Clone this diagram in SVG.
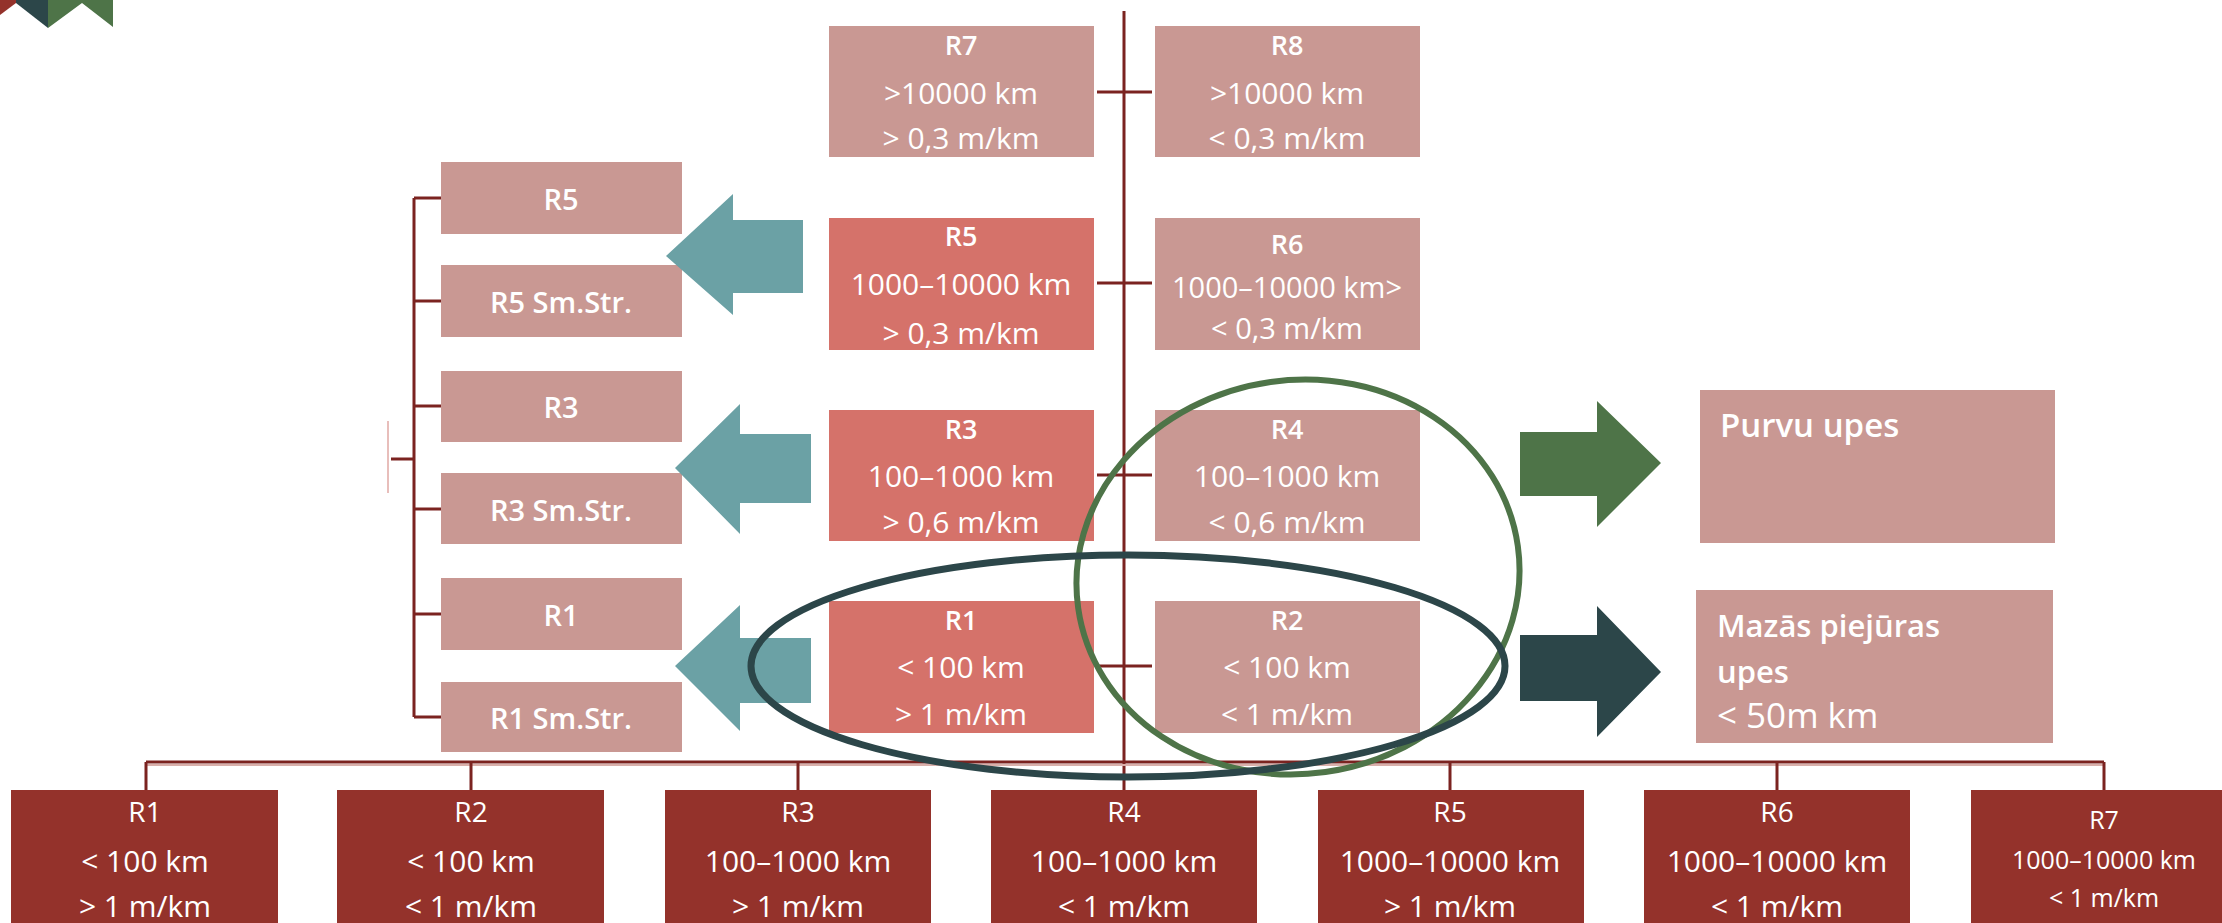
<svg xmlns="http://www.w3.org/2000/svg" width="2222" height="923" viewBox="0 0 2222 923">
<style>
text{font-family:"Open Sans","Noto Sans","Liberation Sans",sans-serif;fill:#fff;text-anchor:middle;dominant-baseline:central}
.b{font-weight:600}
.pink{fill:#C99893}
.sal{fill:#D5726A}
.dark{fill:#94322B}
.ln{stroke:#7B2320;stroke-width:3;fill:none}
.t{font-size:30px}
.h{font-size:27px;font-weight:600}
.l{font-size:29px;font-weight:600}
.bt{font-size:28px}
.s{font-size:25px}
.r{text-anchor:start}
</style>
<rect width="2222" height="923" fill="#fff"/>
<g id="logo">
<polygon points="0,0 16,0 16,3 0,15" fill="#94322B"/>
<polygon points="16,0 48,0 48,28 16,3" fill="#2C4649"/>
<polygon points="48,0 113,0 113,27 82,3 48,28" fill="#4E7448"/>
</g>
<g id="connectors">
<line class="ln" x1="1124" y1="11" x2="1124" y2="790"/>
<line class="ln" x1="1097" y1="92" x2="1152" y2="92"/>
<line class="ln" x1="1097" y1="283" x2="1152" y2="283"/>
<line class="ln" x1="1097" y1="475" x2="1152" y2="475"/>
<line class="ln" x1="1097" y1="666" x2="1152" y2="666"/>
<line class="ln" x1="414" y1="198" x2="414" y2="717"/>
<line class="ln" x1="414" y1="198" x2="441" y2="198"/>
<line class="ln" x1="414" y1="301" x2="441" y2="301"/>
<line class="ln" x1="414" y1="406" x2="441" y2="406"/>
<line class="ln" x1="414" y1="509" x2="441" y2="509"/>
<line class="ln" x1="414" y1="614" x2="441" y2="614"/>
<line class="ln" x1="414" y1="717" x2="441" y2="717"/>
<line class="ln" x1="391" y1="459" x2="414" y2="459"/>
<line x1="388" y1="421" x2="388" y2="493" stroke="#E0A9A4" stroke-width="1.5"/>
<line x1="146" y1="765" x2="2104" y2="765" stroke="#D9B0AB" stroke-width="2"/>
<line class="ln" x1="146" y1="762" x2="2104" y2="762"/>
<line class="ln" x1="146" y1="762" x2="146" y2="790"/>
<line class="ln" x1="471" y1="762" x2="471" y2="790"/>
<line class="ln" x1="798" y1="762" x2="798" y2="790"/>
<line class="ln" x1="1450" y1="762" x2="1450" y2="790"/>
<line class="ln" x1="1777" y1="762" x2="1777" y2="790"/>
<line class="ln" x1="2104" y1="762" x2="2104" y2="790"/>
</g>
<g id="R7"><rect class="pink" x="829" y="26" width="265" height="131"/><text class="h" x="961" y="44">R7</text><text class="t" x="961" y="92">&gt;10000 km</text><text class="t" x="961" y="137">&gt; 0,3 m/km</text></g>
<g id="R8"><rect class="pink" x="1155" y="26" width="265" height="131"/><text class="h" x="1287" y="44">R8</text><text class="t" x="1287" y="92">&gt;10000 km</text><text class="t" x="1287" y="137">&lt; 0,3 m/km</text></g>
<g id="R5"><rect class="sal" x="829" y="218" width="265" height="132"/><text class="h" x="961" y="235">R5</text><text class="t" x="961" y="283">1000–10000 km</text><text class="t" x="961" y="332">&gt; 0,3 m/km</text></g>
<g id="R6"><rect class="pink" x="1155" y="218" width="265" height="132"/><text class="h" x="1287" y="243">R6</text><text x="1287" y="286" style="font-size:29px">1000–10000 km&gt;</text><text x="1287" y="327" style="font-size:29px">&lt; 0,3 m/km</text></g>
<g id="R3"><rect class="sal" x="829" y="410" width="265" height="131"/><text class="h" x="961" y="428">R3</text><text class="t" x="961" y="475">100–1000 km</text><text class="t" x="961" y="521">&gt; 0,6 m/km</text></g>
<g id="R4"><rect class="pink" x="1155" y="410" width="265" height="131"/><text class="h" x="1287" y="428">R4</text><text class="t" x="1287" y="475">100–1000 km</text><text class="t" x="1287" y="521">&lt; 0,6 m/km</text></g>
<g id="R1"><rect class="sal" x="829" y="601" width="265" height="132"/><text class="h" x="961" y="619">R1</text><text class="t" x="961" y="666">&lt; 100 km</text><text class="t" x="961" y="713">&gt; 1 m/km</text></g>
<g id="R2"><rect class="pink" x="1155" y="601" width="265" height="132"/><text class="h" x="1287" y="619">R2</text><text class="t" x="1287" y="666">&lt; 100 km</text><text class="t" x="1287" y="713">&lt; 1 m/km</text></g>
<g id="L-R5"><rect class="pink" x="441" y="162" width="241" height="72"/><text class="l" x="561" y="198">R5</text></g>
<g id="L-R5S"><rect class="pink" x="441" y="265" width="241" height="72"/><text class="l" x="561" y="301">R5 Sm.Str.</text></g>
<g id="L-R3"><rect class="pink" x="441" y="371" width="241" height="71"/><text class="l" x="561" y="406">R3</text></g>
<g id="L-R3S"><rect class="pink" x="441" y="473" width="241" height="71"/><text class="l" x="561" y="509">R3 Sm.Str.</text></g>
<g id="L-R1"><rect class="pink" x="441" y="578" width="241" height="72"/><text class="l" x="561" y="614">R1</text></g>
<g id="L-R1S"><rect class="pink" x="441" y="682" width="241" height="70"/><text class="l" x="561" y="717">R1 Sm.Str.</text></g>
<g id="arrows">
<polygon points="666,256 733,194 733,220 803,220 803,293 733,293 733,315" fill="#6BA1A5"/>
<polygon points="675,468 740,404 740,434 811,434 811,503 740,503 740,534" fill="#6BA1A5"/>
<polygon points="675,666 740,605 740,638 811,638 811,703 740,703 740,731" fill="#6BA1A5"/>
<polygon points="1520,432 1597,432 1597,401 1661,463 1597,527 1597,496 1520,496" fill="#4E7448"/>
<polygon points="1520,635 1597,635 1597,606 1661,672 1597,737 1597,701 1520,701" fill="#2C4649"/>
</g>
<g id="purvu"><rect class="pink" x="1700" y="390" width="355" height="153"/><text class="b r" x="1720" y="424" style="font-size:33px">Purvu upes</text></g>
<g id="mazas"><rect class="pink" x="1696" y="590" width="357" height="153"/><text class="b r" x="1717" y="625" style="font-size:31px">Mazās piejūras</text><text class="b r" x="1717" y="671" style="font-size:31px">upes</text><text class="r" x="1717" y="714" style="font-size:35px">&lt; 50m km</text></g>
<g id="B-R1"><rect class="dark" x="11" y="790" width="267" height="140"/><text class="bt" x="145" y="811">R1</text><text class="t" x="145" y="860">&lt; 100 km</text><text class="t" x="145" y="905">&gt; 1 m/km</text></g>
<g id="B-R2"><rect class="dark" x="337" y="790" width="267" height="140"/><text class="bt" x="471" y="811">R2</text><text class="t" x="471" y="860">&lt; 100 km</text><text class="t" x="471" y="905">&lt; 1 m/km</text></g>
<g id="B-R3"><rect class="dark" x="665" y="790" width="266" height="140"/><text class="bt" x="798" y="811">R3</text><text class="t" x="798" y="860">100–1000 km</text><text class="t" x="798" y="905">&gt; 1 m/km</text></g>
<g id="B-R4"><rect class="dark" x="991" y="790" width="266" height="140"/><text class="bt" x="1124" y="811">R4</text><text class="t" x="1124" y="860">100–1000 km</text><text class="t" x="1124" y="905">&lt; 1 m/km</text></g>
<g id="B-R5"><rect class="dark" x="1318" y="790" width="266" height="140"/><text class="bt" x="1450" y="811">R5</text><text class="t" x="1450" y="860">1000–10000 km</text><text class="t" x="1450" y="905">&gt; 1 m/km</text></g>
<g id="B-R6"><rect class="dark" x="1644" y="790" width="266" height="140"/><text class="bt" x="1777" y="811">R6</text><text class="t" x="1777" y="860">1000–10000 km</text><text class="t" x="1777" y="905">&lt; 1 m/km</text></g>
<g id="B-R7"><rect class="dark" x="1971" y="790" width="266" height="140"/><text class="s" x="2104" y="819">R7</text><text class="s" x="2104" y="859">1000–10000 km</text><text class="s" x="2104" y="897">&lt; 1 m/km</text></g>
<g id="ellipses">
<ellipse cx="1298" cy="577" rx="222" ry="197" transform="rotate(-8 1298 577)" fill="none" stroke="#4E7448" stroke-width="6"/>
<ellipse cx="1128" cy="666" rx="377" ry="111" fill="none" stroke="#2C4649" stroke-width="7"/>
</g>
</svg>
